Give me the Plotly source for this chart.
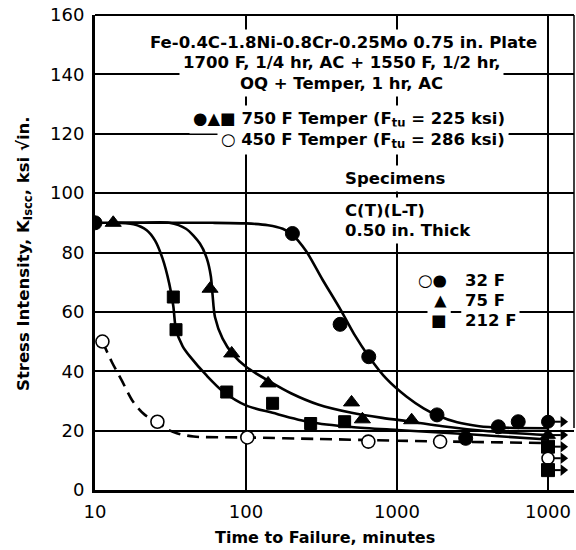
import numpy as np
import plotly.graph_objects as go

# ---------------- data ----------------
# 750 F temper, 32 F (filled circles)
c32_x = [10, 203, 420, 650, 1840, 2850, 4690, 6350]
c32_y = [90, 86.4, 55.8, 44.9, 25.3, 17.4, 21.3, 23]
# 750 F temper, 75 F (filled triangles)
t75_x = [13.2, 57.8, 80.4, 140, 500, 590, 1250]
t75_y = [90, 67.8, 46, 35.9, 29.5, 23.8, 23.5]
# 750 F temper, 212 F (filled squares)
s212_x = [33, 34.4, 74.5, 150, 268, 450]
s212_y = [65, 54, 33, 29.2, 22.4, 23]
# 450 F temper, 32 F (open circles)
o32_x = [11.2, 25.9, 102, 646, 1930]
o32_y = [50, 23, 17.7, 16.3, 16.3]

# run-outs (did not fail) at 10000 min
run_x = [10000, 10000, 10000, 10000, 10000]
run_y = [23, 18.5, 14.6, 10.7, 6.7]
run_sym = ["circle", "triangle-up", "square", "circle-open", "square"]

# fitted curves
cur32_x = [10, 30, 60, 100, 140, 175, 203, 250, 320, 420, 520, 650, 850, 1160, 1500, 1840, 2500, 3500, 5000, 10000]
cur32_y = [90, 90, 90, 89.8, 89.2, 88, 86, 80.5, 71, 61, 52.5, 45, 37.5, 31.4, 27.5, 25.2, 22.8, 21.5, 21, 20.8]
cur75_x = [13, 20, 31, 40, 49.5, 55, 58.5, 60, 62.3, 70, 82.4, 100, 144, 200, 300, 500, 800, 1250, 2000, 4000, 10000]
cur75_y = [90, 90, 90, 88, 83, 78, 72, 66, 58.3, 51, 45.5, 41.5, 36.5, 32.5, 28.8, 26, 24.3, 23, 21.5, 19.8, 18.5]
cur212_x = [13, 18, 22, 25, 28, 31, 33, 34.4, 38, 42.5, 55, 70.8, 100, 150, 268, 500, 1000, 3000, 10000]
cur212_y = [90, 89.5, 87.5, 84, 78, 69.6, 62, 54, 48.5, 45, 38.5, 33.1, 28.5, 26, 22.8, 21.2, 20.2, 18.8, 17]
curo_x = [11.2, 12.9, 15, 17.9, 21.4, 25.9, 30, 34.8, 45, 100, 300, 1000, 3000, 10000]
curo_y = [50, 43.2, 37, 29.7, 25.3, 23, 20.5, 19.1, 18, 17.7, 17.2, 16.6, 16.2, 15.8]

x_tickvals = [10, 100, 1000, 10000]
x_ticktext = ["10", "100", "1000", "1000"]
y_tickvals = [0, 20, 40, 60, 80, 100, 120, 140, 160]

# ---------------- figure ----------------
W, H = 576, 550
ML, MR, MT, MB = 95, 2, 15, 60
PW, PH = W - ML - MR, H - MT - MB
XR = [1, 1 + PW / 151.0]


def px(xp):
    return (xp - ML) / PW


def py(yp):
    return (H - MB - yp) / PH


FAM = "DejaVu Sans, sans-serif"
fig = go.Figure()

line_w = 2.6
for cx, cy in [(cur32_x, cur32_y), (cur75_x, cur75_y), (cur212_x, cur212_y)]:
    fig.add_trace(go.Scatter(x=cx, y=cy, mode="lines", line=dict(color="black", width=line_w, shape="spline", smoothing=0.8),
                             hoverinfo="skip", showlegend=False))
fig.add_trace(go.Scatter(x=curo_x, y=curo_y, mode="lines",
                         line=dict(color="black", width=line_w, dash="12px,7px", shape="spline", smoothing=0.8),
                         hoverinfo="skip", showlegend=False))

# run-out arrows (shaft + head), drawn from the run-out values
ARROW_SHAFT = 10 ** 0.085
ARROW_HEAD = 10 ** 0.1
for rx, ry in zip(run_x, run_y):
    fig.add_trace(go.Scatter(x=[rx, rx * ARROW_SHAFT], y=[ry, ry], mode="lines",
                             line=dict(color="black", width=2), hoverinfo="skip", showlegend=False))
fig.add_trace(go.Scatter(x=[rx * ARROW_HEAD for rx in run_x], y=run_y, mode="markers",
                         marker=dict(symbol="triangle-right", size=10, color="black"),
                         hoverinfo="skip", showlegend=False))

mk = dict(color="black", line=dict(color="black", width=1))
fig.add_trace(go.Scatter(x=c32_x, y=c32_y, mode="markers", marker=dict(symbol="circle", size=14, **mk), showlegend=False))
fig.add_trace(go.Scatter(x=t75_x, y=t75_y, mode="markers", marker=dict(symbol="triangle-up", size=14, **mk), showlegend=False))
fig.add_trace(go.Scatter(x=s212_x, y=s212_y, mode="markers", marker=dict(symbol="square", size=12, **mk), showlegend=False))
fig.add_trace(go.Scatter(x=o32_x, y=o32_y, mode="markers",
                         marker=dict(symbol="circle", size=13, color="white", line=dict(color="black", width=1.6)),
                         showlegend=False))
for rx, ry, rs in zip(run_x, run_y, run_sym):
    if rs == "circle-open":
        m = dict(symbol="circle", size=12, color="white", line=dict(color="black", width=1.6))
    else:
        m = dict(symbol=rs, size=13, **mk)
    fig.add_trace(go.Scatter(x=[rx], y=[ry], mode="markers", marker=m, hoverinfo="skip", showlegend=False))


# white masks hiding grid lines behind the text blocks
def mask(x0, x1, y0, y1):
    fig.add_shape(type="rect", xref="paper", yref="paper", x0=px(x0), x1=px(x1), y0=py(y1), y1=py(y0),
                  fillcolor="white", line=dict(width=0), layer="between")


mask(140, 545, 69, 79)     # 140 grid line
mask(155, 520, 129, 138)   # 120 grid line
mask(333, 480, 186, 200)   # 100 grid line
mask(412, 526, 306, 318)   # 60 grid line

# frame top & right
fig.add_shape(type="line", xref="paper", yref="paper", x0=0, x1=1, y0=1, y1=1, line=dict(color="black", width=2))
fig.add_shape(type="line", xref="paper", yref="paper", x0=1, x1=1, y0=py(428), y1=1, line=dict(color="black", width=1.5))


def txt(s, xp, yp, anchor="center", size=16.5, bg="white"):
    fig.add_annotation(text=s, x=px(xp), y=py(yp), xref="paper", yref="paper", xanchor=anchor, yanchor="middle",
                       showarrow=False, font=dict(family=FAM, size=size, color="black", weight="bold"),
                       bgcolor=bg, borderpad=3)


txt("Fe-0.4C-1.8Ni-0.8Cr-0.25Mo 0.75 in. Plate", 343, 42)
txt("1700 F, 1/4 hr, AC + 1550 F, 1/2 hr,", 341, 62)
txt("OQ + Temper, 1 hr, AC", 341, 83.5)
txt("●▲■ 750 F Temper (F<sub>tu</sub> = 225 ksi)", 509, 119, anchor="right")
txt("○ 450 F Temper (F<sub>tu</sub> = 286 ksi)", 509, 140, anchor="right")
txt("Specimens", 341, 178, anchor="left")
txt("C(T)(L-T)", 341, 210, anchor="left")
txt("0.50 in. Thick", 341, 231, anchor="left")
txt("○●", 451, 280, anchor="right")
txt("▲", 451, 300, anchor="right")
txt("■", 451, 320, anchor="right")
txt("32 F", 461, 280, anchor="left")
txt("75 F", 461, 300, anchor="left")
txt("212 F", 461, 320, anchor="left")

# axis titles
fig.add_annotation(text="Time to Failure, minutes", x=px(325), y=py(537), xref="paper", yref="paper",
                   showarrow=False, font=dict(family=FAM, size=16, color="black", weight="bold"),
                   xanchor="center", yanchor="middle")
fig.add_annotation(text="Stress Intensity, K<sub>Iscc</sub>, ksi √in.", x=px(25), y=py(254), xref="paper", yref="paper",
                   showarrow=False, textangle=-90, font=dict(family=FAM, size=16.5, color="black", weight="bold"),
                   xanchor="center", yanchor="middle")

fig.update_xaxes(type="log", range=XR, tickvals=x_tickvals, ticktext=x_ticktext, showgrid=True, gridcolor="black",
                 gridwidth=1.5, showline=True, linecolor="black", linewidth=3, zeroline=False, ticks="",
                 ticklabelstandoff=3, tickfont=dict(family=FAM, size=18, color="black"))
fig.update_yaxes(range=[0, 160], tickvals=y_tickvals, showgrid=True, gridcolor="black", gridwidth=1.5,
                 showline=True, linecolor="black", linewidth=3, zeroline=False, ticks="",
                 ticklabelstandoff=4, tickfont=dict(family=FAM, size=18, color="black"))
fig.update_layout(width=W, height=H, margin=dict(l=ML, r=MR, t=MT, b=MB), plot_bgcolor="white",
                  paper_bgcolor="white", showlegend=False)
fig.write_html("out.html")
